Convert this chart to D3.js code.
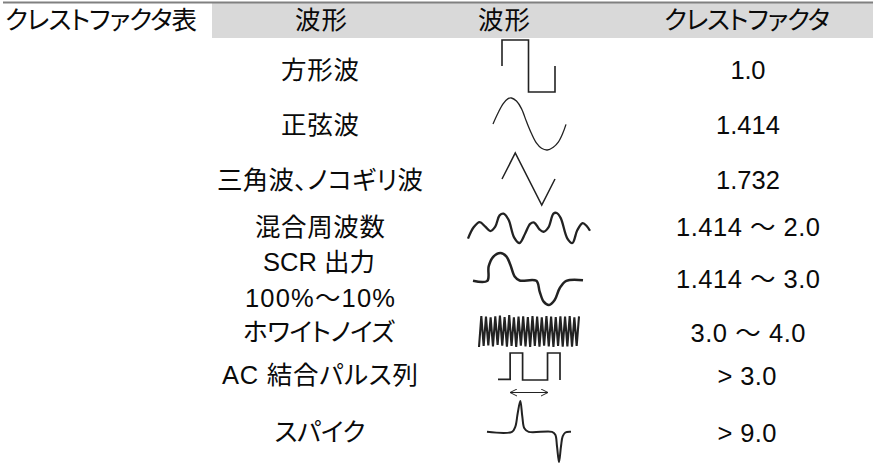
<!DOCTYPE html>
<html lang="ja">

<head>
    <meta charset="UTF-8">
    <title>クレストファクタ表</title>
    <script src="https://d3js.org/d3.v7.min.js"></script>
    <style>
        html, body { margin: 0; padding: 0; background: #fff; }
        svg { display: block; }
        text { font-family: "Liberation Sans", "Noto Sans CJK JP", sans-serif; font-size: 25.5px; fill: #0a0a0a; text-anchor: middle; dominant-baseline: central; font-feature-settings: "palt"; }
    </style>
</head>

<body>
    <div id="chart"></div>
    <script>
        const width = 873;
        const height = 463;

        const tableTitle = "クレストファクタ表";
        const headers = ["波形", "波形", "クレストファクタ"];
        const waveNames = ["方形波", "正弦波", "三角波、ノコギリ波", "混合周波数", "SCR 出力", "100%～10%", "ホワイトノイズ", "AC 結合パルス列", "スパイク"];
        const crestFactors = ["1.0", "1.414", "1.732", "1.414 ～ 2.0", "1.414 ～ 3.0", "3.0 ～ 4.0", "> 3.0", "> 9.0"];

        // traces: t along the trace, v height
        const squareT = [0, 0, 1, 1, 2, 2];
        const squareV = [0, 1, 1, -1, -1, 0];
        const sineT = [160, 175, 190, 205, 215, 230, 245, 260, 275, 290, 305, 322, 340, 355, 368, 378];
        const sineV = [76, 108, 135, 150, 152, 143, 121, 83, 48, 20, 5, 0, 8, 23, 48, 75];
        const triangleT = [0, 1, 3, 4];
        const triangleV = [0, 1, -1, 0];
        const mixedT = [83, 100, 118, 135, 150, 165, 178, 190, 205, 222, 238, 255, 270, 282, 298, 310, 325, 340, 350, 362, 382, 397, 412, 428, 440, 450];
        const mixedV = [13, 46, 61, 48, 35, 48, 81, 86, 68, 16, 0, 28, 56, 60, 40, 33, 46, 86, 88, 73, 13, 0, 38, 58, 50, 36];
        const scrT = [100, 143, 147, 160, 182, 200, 212, 225, 240, 290, 300, 312, 328, 345, 360, 380, 430];
        const scrV = [72, 72, 115, 143, 155, 145, 120, 85, 73, 72, 40, 10, 0, 15, 50, 72, 74];
        const noiseT = [0, 1, 2, 3, 4, 5, 6, 7, 8, 9, 10, 11, 12, 13, 14, 15, 16, 17, 18, 19, 20, 21, 22, 23, 24, 25, 26, 27, 28, 29, 30, 31, 32, 33, 34, 35, 36, 37, 38, 39, 40, 41, 42, 43];
        const noiseV = [0, 92, 3, 90, 5, 88, 2, 91, 6, 93, 4, 89, 1, 95, 3, 88, 0, 90, 4, 91, 2, 89, 0, 92, 3, 90, 1, 88, 4, 92, 2, 90, 0, 89, 3, 91, 1, 90, 2, 92, 1, 88, 3, 91];
        const pulseT = [175, 211, 211, 248, 248, 322, 322, 359, 359];
        const pulseV = [2, 2, 81, 81, 0, 0, 81, 81, 0];
        const spikeT = [140, 215, 225, 232, 240, 246, 252, 265, 335, 345, 350, 356, 362, 367, 375, 392];
        const spikeV = [92, 92, 108, 148, 186, 138, 103, 92, 92, 83, 48, 0, 48, 78, 90, 92];

        // where each text sits on the page, and how wide it runs
        const headerX = [321, 504, 747];
        const headerW = [52, 52, 166];
        const nameX = [320, 320, 320, 320, 319, 320, 319, 320, 320];
        const nameY = [70, 125, 180, 227, 262, 298, 332, 375, 432];
        const nameW = [78, 78, 206, 130, 112, 150, 152, 196, 91];
        const valueX = [748, 748, 748, 748, 748, 748, 747, 747];
        const valueY = [70, 125, 180, 227, 279, 333, 376, 433];
        const valueW = [35, 64, 64, 144, 144, 115, 59, 59];

        const traces = [
            { t: squareT, v: squareV, x: [502, 555], y: [92, 40], width: 1.6, curve: d3.curveLinear },
            { t: sineT, v: sineV, x: [493, 566], y: [150, 98], width: 1.3, curve: d3.curveCatmullRom },
            { t: triangleT, v: triangleV, x: [502, 555], y: [205, 153], width: 1.5, curve: d3.curveLinear },
            { t: mixedT, v: mixedV, x: [468, 590], y: [243, 213], width: 2.3, curve: d3.curveCatmullRom },
            { t: scrT, v: scrV, x: [473, 583], y: [305, 253], width: 2.5, curve: d3.curveCatmullRom },
            { t: noiseT, v: noiseV, x: [479, 579], y: [347, 315], width: 2.1, curve: d3.curveLinear },
            { t: pulseT, v: pulseV, x: [498, 560], y: [380, 353], width: 1.7, curve: d3.curveLinear },
            { t: spikeT, v: spikeV, x: [487, 571], y: [462, 401], width: 2, curve: d3.curveCatmullRom }
        ];

        const svg = d3.select("#chart")
            .append("svg")
            .attr("width", width)
            .attr("height", height);

        // header band and top rule
        svg.append("rect").attr("x", 212).attr("y", 3).attr("width", width - 212).attr("height", 35).attr("fill", "#d9d9d9");
        svg.append("line").attr("x1", 3).attr("x2", width).attr("y1", 2.5).attr("y2", 2.5).attr("stroke", "#808080").attr("stroke-width", 2);

        function addText(label, x, y, w) {
            svg.append("text")
                .attr("x", x)
                .attr("y", y)
                .attr("textLength", w)
                .attr("lengthAdjust", "spacing")
                .text(label);
        }

        addText(tableTitle, 101, 20, 192);
        headers.forEach((d, i) => addText(d, headerX[i], 20, headerW[i]));
        waveNames.forEach((d, i) => addText(d, nameX[i], nameY[i], nameW[i]));
        crestFactors.forEach((d, i) => addText(d, valueX[i], valueY[i], valueW[i]));

        traces.forEach(tr => {
            const x = d3.scaleLinear().domain(d3.extent(tr.t)).range(tr.x);
            const y = d3.scaleLinear().domain(d3.extent(tr.v)).range(tr.y);
            const line = d3.line()
                .x((d, i) => x(tr.t[i]))
                .y((d, i) => y(tr.v[i]))
                .curve(tr.curve);
            svg.append("path")
                .attr("d", line(tr.t))
                .attr("fill", "none")
                .attr("stroke", "#222")
                .attr("stroke-width", tr.width);
        });

        // period arrow under the pulse train
        svg.append("defs").append("marker")
            .attr("id", "open")
            .attr("viewBox", "0 -5 10 10")
            .attr("refX", 10)
            .attr("refY", 0)
            .attr("markerWidth", 7)
            .attr("markerHeight", 8)
            .attr("markerUnits", "userSpaceOnUse")
            .attr("orient", "auto-start-reverse")
            .append("path")
            .attr("d", "M0,-5L10,0L0,5")
            .attr("fill", "none")
            .attr("stroke", "#222")
            .attr("stroke-width", 1.4);

        svg.append("line")
            .attr("x1", 510).attr("x2", 548)
            .attr("y1", 392.5).attr("y2", 392.5)
            .attr("stroke", "#222")
            .attr("stroke-width", 1)
            .attr("marker-start", "url(#open)")
            .attr("marker-end", "url(#open)");
    </script>
</body>

</html>
